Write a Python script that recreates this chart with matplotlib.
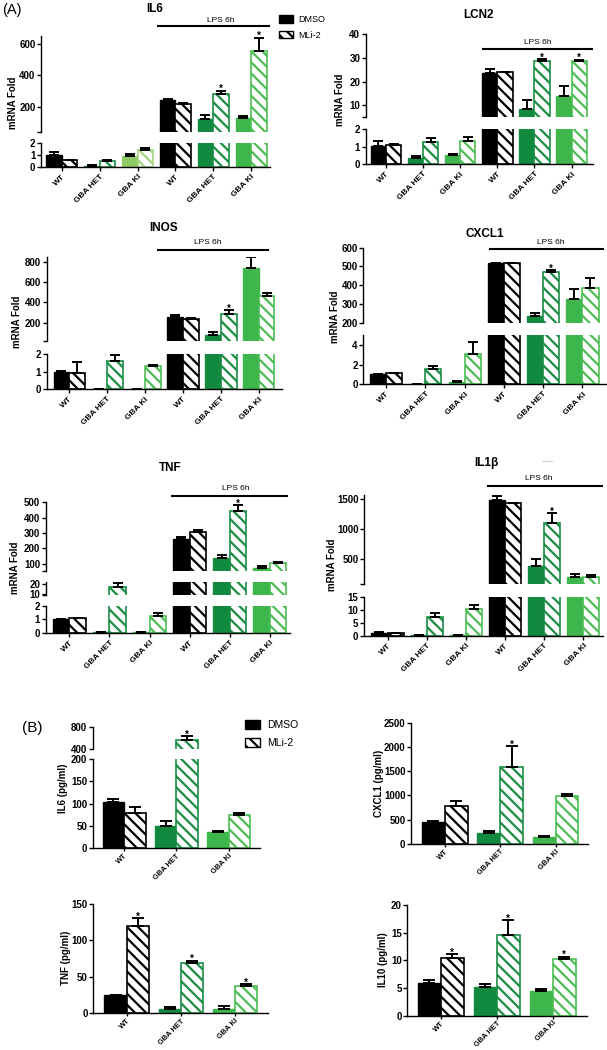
import numpy as np
import matplotlib.pyplot as plt
from matplotlib.patches import Patch
from matplotlib.lines import Line2D

plt.rcParams['font.family'] = ['Liberation Sans', 'DejaVu Sans']
plt.rcParams['hatch.linewidth'] = 1.6
plt.rcParams['axes.linewidth'] = 1.0

W, H = 607, 1050

groups_a = ['WT', 'GBA HET', 'GBA KI', 'WT', 'GBA HET', 'GBA KI']
groups_b = ['WT', 'GBA HET', 'GBA KI']

# (A) mRNA fold, DMSO / MLi-2 means and top of error bar
il6_dmso = [1.0, 0.08, 0.95, 242, 120, 126]
il6_dmso_err = [1.22, 0.13, 1.05, 250, 147, 141]
il6_mli = [0.55, 0.45, 1.4, 221, 282, 552]
il6_mli_err = [0.6, 0.55, 1.62, 226, 303, 640]

lcn2_dmso = [1.04, 0.38, 0.52, 23.7, 8.6, 13.9]
lcn2_dmso_err = [1.35, 0.46, 0.6, 25.4, 12.2, 18.2]
lcn2_mli = [1.12, 1.3, 1.35, 24.0, 28.6, 28.8]
lcn2_mli_err = [1.16, 1.48, 1.56, 24.3, 29.5, 29.3]

inos_dmso = [1.0, 0, 0, 255, 80, 735]
inos_dmso_err = [1.05, 0, 0, 275, 110, 850]
inos_mli = [0.95, 1.58, 1.3, 235, 288, 462]
inos_mli_err = [1.52, 1.95, 1.4, 250, 325, 495]

cxcl1_dmso = [1.0, 0.05, 0.25, 518, 236, 327]
cxcl1_dmso_err = [1.05, 0.08, 0.32, 521, 253, 381]
cxcl1_mli = [1.1, 1.52, 3.1, 517, 470, 385]
cxcl1_mli_err = [1.16, 1.9, 4.25, 519, 480, 440]

tnf_dmso = [1.0, 0.04, 0.04, 259, 135, 74]
tnf_dmso_err = [1.06, 0.06, 0.06, 272, 157, 85]
tnf_mli = [1.08, 17, 1.25, 304, 445, 102]
tnf_mli_err = [1.13, 21, 1.5, 319, 482, 110]

il1b_dmso = [1.0, 0.3, 0.3, 1483, 383, 198]
il1b_dmso_err = [1.4, 0.5, 0.5, 1550, 490, 238]
il1b_mli = [1.0, 7.4, 10.6, 1427, 1090, 195]
il1b_mli_err = [1.3, 9.1, 12.1, 1432, 1257, 232]

# (B) protein, pg/ml
b_il6_dmso = [103, 51, 36]
b_il6_dmso_err = [110, 61, 38.5]
b_il6_mli = [80, 561, 75]
b_il6_mli_err = [92, 625, 78]

b_cxcl1_dmso = [459, 220, 138]
b_cxcl1_dmso_err = [468, 274, 158]
b_cxcl1_mli = [782, 1580, 990]
b_cxcl1_mli_err = [885, 2010, 1035]

b_tnf_dmso = [25, 5.5, 5.5]
b_tnf_dmso_err = [25.6, 8.5, 10]
b_tnf_mli = [120.3, 68.7, 38]
b_tnf_mli_err = [130.5, 72, 40]

b_il10_dmso = [5.85, 5.15, 4.4]
b_il10_dmso_err = [6.4, 5.7, 4.8]
b_il10_mli = [10.4, 14.5, 10.3]
b_il10_mli_err = [11.05, 17.2, 10.6]

dmso_cols = ['#000000', '#11893f', '#3db64b']
mli_cols = ['#000000', '#1a8d44', '#4dbd55']
il6_dmso_cols = ['#000000', '#11893f', '#8fca67', '#000000', '#11893f', '#3db64b']
il6_mli_cols = ['#000000', '#1a8d44', '#a5d582', '#000000', '#1a8d44', '#4dbd55']

HATCH = '\\\\\\'
BW = 0.41

fig = plt.figure(figsize=(W / 100, H / 100), dpi=100)


def box(x0, x1, y0, y1):
    return [x0 / W, 1 - y1 / H, (x1 - x0) / W, (y1 - y0) / H]


def fy(y):
    return 1 - y / H


def draw_panel(xpx, xlim, segs, labels, dmso, dmso_err, mli, mli_err, stars,
               dcol, mcol, capsize=3.5, xfs=6, xpad=1.5, xlen=3):
    x = np.arange(len(labels))
    dmso, dmso_err = np.asarray(dmso, float), np.asarray(dmso_err, float)
    mli, mli_err = np.asarray(mli, float), np.asarray(mli_err, float)
    for i, (y0, y1, lo, hi, ticks) in enumerate(segs):
        ax = fig.add_axes(box(xpx[0], xpx[1], y0, y1))
        ax.bar(x - BW / 2, dmso, BW, color=dcol, edgecolor=dcol, linewidth=1.0, zorder=2)
        ax.bar(x + BW / 2, mli, BW, color='white', edgecolor=mcol, hatch=HATCH,
               linewidth=1.2, zorder=2)
        ax.errorbar(x - BW / 2, dmso, yerr=[np.zeros_like(dmso), dmso_err - dmso],
                    fmt='none', ecolor='black', elinewidth=1.4, capsize=capsize,
                    capthick=1.4, zorder=3)
        ax.errorbar(x + BW / 2, mli, yerr=[np.zeros_like(mli), mli_err - mli],
                    fmt='none', ecolor='black', elinewidth=1.4, capsize=capsize,
                    capthick=1.4, zorder=3)
        for s in stars:
            if lo <= mli_err[s] <= hi:
                ax.annotate('*', (x[s] + BW / 2, mli_err[s]), xytext=(0, -1),
                            textcoords='offset points', ha='center', va='baseline',
                            fontsize=7, fontweight='bold')
        ax.set_xlim(*xlim)
        ax.set_ylim(lo, hi)
        tk = list(ticks)
        lb = [f'{t:g}' for t in ticks]
        if lo not in tk:
            tk.append(lo)
            lb.append('')
        ax.set_yticks(tk, lb, fontsize=7, fontweight='bold')
        ax.tick_params(axis='y', length=3, width=1.0, pad=1)
        ax.spines[['top', 'right']].set_visible(False)
        ax.patch.set_alpha(0)
        if i == len(segs) - 1:
            ax.set_xticks(x, labels, rotation=45, ha='right', rotation_mode='anchor',
                          fontsize=xfs, fontweight='bold')
            ax.tick_params(axis='x', length=xlen, width=1.0, pad=xpad)
        else:
            ax.spines['bottom'].set_visible(False)
            ax.set_xticks([])


def label(x, y, s, size=8.5, rot=0, weight='bold'):
    fig.text(x / W, fy(y), s, ha='center', va='center', fontsize=size,
             fontweight=weight, rotation=rot)


def lps(x0, x1, y, xt, yt):
    fig.add_artist(Line2D([x0 / W, x1 / W], [fy(y), fy(y)], color='black', lw=1.5))
    fig.text(xt / W, fy(yt), 'LPS 6h', ha='center', va='center', fontsize=6)


# ---- (A)
draw_panel((41, 270), (-0.55, 5.5),
           [(36, 132, 40, 650, [200, 400, 600]), (143.3, 166.7, 0, 2, [0, 1, 2])],
           groups_a, il6_dmso, il6_dmso_err, il6_mli, il6_mli_err, [4, 5],
           il6_dmso_cols, il6_mli_cols)
draw_panel((365.7, 592.7), (-0.55, 5.57),
           [(34.3, 117.3, 5, 40, [10, 20, 30, 40]), (129.3, 164.3, 0, 2, [0, 1, 2])],
           groups_a, lcn2_dmso, lcn2_dmso_err, lcn2_mli, lcn2_mli_err, [4, 5],
           dmso_cols * 2, mli_cols * 2)
draw_panel((46.7, 281.7), (-0.59, 5.6),
           [(256.7, 341, 20, 850, [200, 400, 600, 800]), (354, 389.3, 0, 2, [0, 1, 2])],
           groups_a, inos_dmso, inos_dmso_err, inos_mli, inos_mli_err, [4],
           dmso_cols * 2, mli_cols * 2)
draw_panel((363.3, 606), (-0.58, 5.6),
           [(247.7, 322.7, 200, 600, [200, 300, 400, 500, 600]), (335, 384.3, 0, 5, [0, 2, 4])],
           groups_a, cxcl1_dmso, cxcl1_dmso_err, cxcl1_mli, cxcl1_mli_err, [4],
           dmso_cols * 2, mli_cols * 2)
draw_panel((45.7, 290), (-0.59, 5.5),
           [(502.3, 570.7, 55, 500, [100, 200, 300, 400, 500]),
            (582, 595, 9.3, 22.3, [10, 20]), (606, 632.7, 0, 2, [0, 1, 2])],
           groups_a, tnf_dmso, tnf_dmso_err, tnf_mli, tnf_mli_err, [4],
           dmso_cols * 2, mli_cols * 2)
draw_panel((364, 603), (-0.6, 5.5),
           [(495, 584.3, 70, 1560, [500, 1000, 1500]), (597.3, 636, 0, 15, [0, 5, 10, 15])],
           groups_a, il1b_dmso, il1b_dmso_err, il1b_mli, il1b_mli_err, [4],
           dmso_cols * 2, mli_cols * 2)

label(155, 9.5, 'IL6')
label(478, 14.7, 'LCN2')
label(164, 228.3, 'INOS')
label(485, 234, 'CXCL1')
label(170, 468, 'TNF')
label(486, 463, 'IL1β')
fig.add_artist(Line2D([542 / W, 552 / W], [fy(461), fy(461)], color='#d8d8d8', lw=1))

lps(158, 269, 26, 220.5, 20)
lps(482.7, 591.7, 49.3, 537.5, 42)
lps(158, 268, 250, 207.7, 242)
lps(490, 603, 249.3, 550.8, 242.5)
lps(171.7, 287.3, 495.7, 235.8, 488)
lps(487.7, 601.7, 486, 538.7, 478)

for xl, yl in [(13, 103), (340, 100), (17, 321.7), (335, 316.7), (15, 568), (331.7, 565)]:
    label(xl, yl, 'mRNA Fold', size=7, rot=90)

label(11.5, 10, '(A)', size=10.5, weight='normal')

handles = [Patch(facecolor='black', edgecolor='black'),
           Patch(facecolor='white', edgecolor='black', hatch=HATCH)]
fig.legend(handles, ['DMSO', 'MLi-2'], loc='upper left',
           bbox_to_anchor=(279 / W, fy(15)), frameon=False, fontsize=6.5,
           handlelength=1.55, handleheight=0.9, handletextpad=0.55,
           labelspacing=0.75, borderpad=0, borderaxespad=0)

# ---- (B)
bx = dict(capsize=4, xfs=5.4, xpad=0.5, xlen=2.5)
draw_panel((92.7, 260), (-0.6, 2.6),
           [(726.7, 749, 400, 800, [400, 800]),
            (759, 848.3, 0, 200, [0, 50, 100, 150, 200])],
           groups_b, b_il6_dmso, b_il6_dmso_err, b_il6_mli, b_il6_mli_err, [1],
           dmso_cols, mli_cols, **bx)
draw_panel((411, 588.3), (-0.61, 2.59),
           [(722.7, 844, 0, 2500, [0, 500, 1000, 1500, 2000, 2500])],
           groups_b, b_cxcl1_dmso, b_cxcl1_dmso_err, b_cxcl1_mli, b_cxcl1_mli_err, [1],
           dmso_cols, mli_cols, **bx)
draw_panel((93.3, 267.7), (-0.615, 2.6),
           [(904, 1013.3, 0, 150, [0, 50, 100, 150])],
           groups_b, b_tnf_dmso, b_tnf_dmso_err, b_tnf_mli, b_tnf_mli_err, [0, 1, 2],
           dmso_cols, mli_cols, **bx)
draw_panel((407.3, 587.3), (-0.6, 2.62),
           [(905, 1015.5, 0, 20, [0, 5, 10, 15, 20])],
           groups_b, b_il10_dmso, b_il10_dmso_err, b_il10_mli, b_il10_mli_err, [0, 1, 2],
           dmso_cols, mli_cols, **bx)

label(63, 788, 'IL6 (pg/ml)', size=7, rot=90)
label(379, 783, 'CXCL1 (pg/ml)', size=7, rot=90)
label(66, 958, 'TNF (pg/ml)', size=7, rot=90)
label(383, 960, 'IL10 (pg/ml)', size=7, rot=90)
label(32, 728, '(B)', size=11, weight='normal')

fig.legend(handles, ['DMSO', 'MLi-2'], loc='upper left',
           bbox_to_anchor=(245 / W, fy(720)), frameon=False, fontsize=7.5,
           handlelength=1.45, handleheight=1.0, handletextpad=0.65,
           labelspacing=0.75, borderpad=0, borderaxespad=0)

fig.savefig('out.png', dpi=100)
